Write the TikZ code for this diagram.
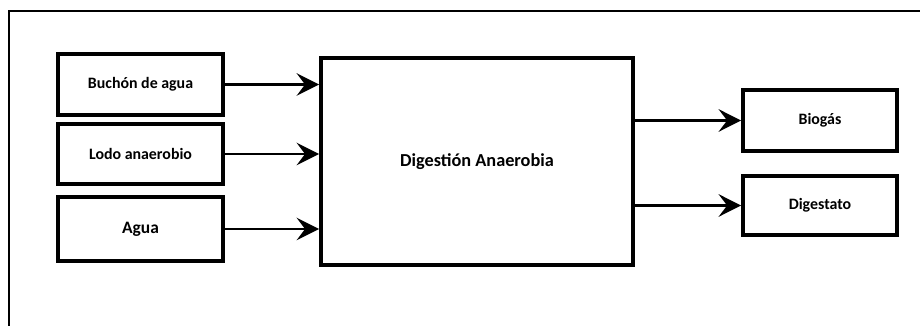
\documentclass[tikz,border=0pt]{standalone}
\usepackage{fontspec}
\setmainfont{Carlito}
\usetikzlibrary{arrows.meta}

\begin{document}
\begin{tikzpicture}[x=0.025cm,y=-0.025cm,
    caja/.style={draw,line width=2.6pt,inner sep=0pt,
      font=\bfseries\fontsize{11.3}{13}\selectfont},
    flecha/.style={line width=2pt,
      -{Stealth[length=16pt,width=16pt,inset=6pt]}}]
  \useasboundingbox (0,0) rectangle (920,326);
  % marco
  \draw[line width=2pt] (9,332) |- (926,11);
  % entradas
  \node[caja,minimum width=4.125cm,minimum height=1.525cm] (buchon) at (140.5,84.5) {Buchón de agua};
  \node[caja,minimum width=4.125cm,minimum height=1.5cm] (lodo) at (140.5,154) {Lodo anaerobio};
  \node[caja,minimum width=4.125cm,minimum height=1.6cm,
    font=\bfseries\fontsize{12.4}{14}\selectfont] (agua) at (140.5,229) {Agua};
  % reactor
  \node[caja,minimum width=7.8cm,minimum height=5.175cm,
    font=\bfseries\fontsize{13}{15}\selectfont] (digestion) at (477,161.5) {Digestión Anaerobia};
  % salidas
  \node[caja,minimum width=3.85cm,minimum height=1.525cm] (biogas) at (820,120.5) {Biogás};
  \node[caja,minimum width=3.85cm,minimum height=1.475cm] (digestato) at (820,205.5) {Digestato};
  \foreach \n in {buchon,lodo,agua}
    \draw[flecha] (\n.east) -- (\n.east -| digestion.west);
  \foreach \n in {biogas,digestato}
    \draw[flecha] (digestion.east |- \n.west) -- (\n.west);
\end{tikzpicture}
\end{document}
